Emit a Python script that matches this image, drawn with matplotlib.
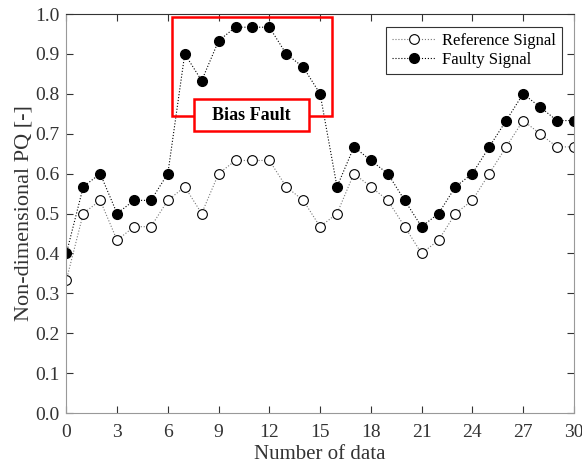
import numpy as np
import matplotlib.pyplot as plt
from matplotlib.patches import Rectangle

plt.rcParams['font.family'] = ['Liberation Serif', 'DejaVu Serif']

# Données
n_data = np.arange(0, 31)
reference = [0.333, 0.5, 0.533, 0.433, 0.467, 0.467, 0.533, 0.567, 0.5, 0.6,
             0.633, 0.633, 0.633, 0.567, 0.533, 0.467, 0.5, 0.6, 0.567, 0.533,
             0.467, 0.4, 0.433, 0.5, 0.533, 0.6, 0.667, 0.733, 0.7, 0.667, 0.667]
faulty = [0.4, 0.567, 0.6, 0.5, 0.533, 0.533, 0.6, 0.9, 0.833, 0.933,
          0.967, 0.967, 0.967, 0.9, 0.867, 0.8, 0.567, 0.667, 0.633, 0.6,
          0.533, 0.467, 0.5, 0.567, 0.6, 0.667, 0.733, 0.8, 0.767, 0.733, 0.733]
x_ticks = np.arange(0, 31, 3)
y_ticks = np.arange(0, 1.01, 0.1)

fig = plt.figure(figsize=(5.82, 4.68), dpi=100)
ax = fig.add_axes([0.114, 0.1175, 0.872, 0.8525])

ax.plot(n_data, reference, linestyle=':', color='#777777', linewidth=0.8,
        marker='o', markersize=7, markerfacecolor='white', markeredgecolor='black',
        markeredgewidth=0.8, label='Reference Signal')
ax.plot(n_data, faulty, linestyle=':', color='black', linewidth=0.8,
        marker='o', markersize=7, markerfacecolor='black', markeredgecolor='black',
        label='Faulty Signal')

# Zone du défaut
ax.add_patch(Rectangle((6.22, 0.745), 9.46, 0.248, fill=False, edgecolor='red',
                       linewidth=1.8, zorder=4))
ax.add_patch(Rectangle((7.54, 0.707), 6.79, 0.08, facecolor='white', edgecolor='red',
                       linewidth=1.8, zorder=5))
ax.text(10.94, 0.745, 'Bias Fault', ha='center', va='center', fontsize=13,
        fontweight='bold', zorder=6)

ax.set_xlim(0, 30)
ax.set_ylim(0, 1)
ax.set_xticks(x_ticks)
ax.set_yticks(y_ticks)
ax.set_yticklabels(['%.1f' % v for v in y_ticks])
ax.tick_params(direction='in', top=True, right=True, labelsize=14, length=5,
               color='#333333', labelcolor='#333333')
ax.tick_params(axis='x', pad=8)
ax.tick_params(axis='y', pad=5)
for s in ax.spines.values():
    s.set_color('#999999')
ax.spines['top'].set_color('#333333')
ax.set_xlabel('Number of data', fontsize=15, labelpad=3, color='#333333')
ax.set_ylabel('Non-dimensional PQ [-]', fontsize=16, labelpad=1, color='#333333')

leg = ax.legend(loc='upper right', fontsize=12, fancybox=False, framealpha=1,
                edgecolor='#333333', handlelength=2.6, handletextpad=0.4,
                borderpad=0.35, labelspacing=0.2, borderaxespad=0,
                bbox_to_anchor=(0.976, 0.968))
leg.get_frame().set_linewidth(0.8)

plt.savefig('out.png', dpi=100)
